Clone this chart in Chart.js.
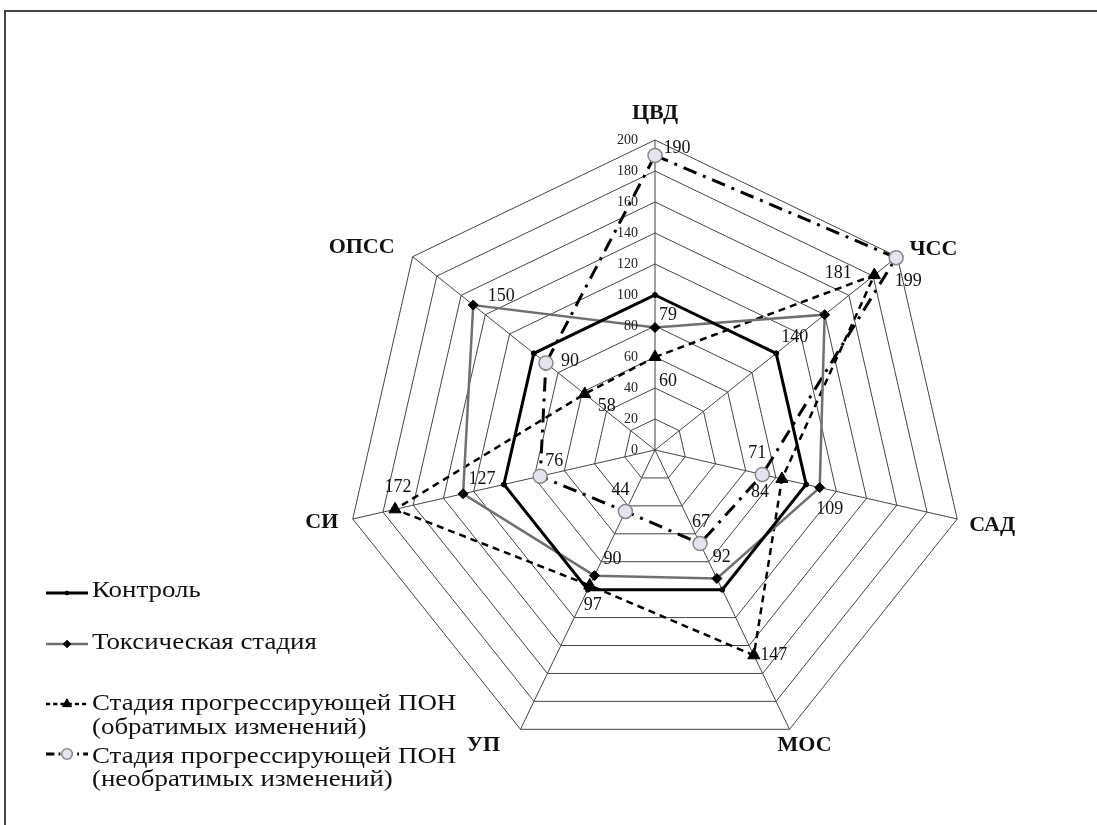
<!DOCTYPE html>
<html>
<head>
<meta charset="utf-8">
<script src="https://cdn.jsdelivr.net/npm/chart.js@4.4.1/dist/chart.umd.min.js"></script>
<style>
  html, body { margin: 0; padding: 0; background: #fff; }
  #wrap { position: relative; width: 1097px; height: 825px; overflow: hidden; }
  #frame { position: absolute; left: 4px; top: 10px; width: 1200px; height: 900px;
           border: 2px solid #444; box-sizing: border-box; }
  canvas { position: absolute; left: 0; top: 0; }
</style>
</head>
<body>
<div id="wrap">
  <div id="frame"></div>
  <canvas id="radar" width="1097" height="825"></canvas>
</div>
<script>
// данные диаграммы
const axes         = ['ЦВД', 'ЧСС', 'САД', 'МОС', 'УП', 'СИ', 'ОПСС'];
const control      = [100, 100, 100, 100, 100, 100, 100];
const toxic        = [79, 140, 109, 92, 90, 127, 150];
const reversible   = [60, 181, 84, 147, 97, 172, 58];
const irreversible = [190, 199, 71, 67, 44, 76, 90];
const tickValues   = [0, 20, 40, 60, 80, 100, 120, 140, 160, 180, 200];
const seriesNames  = [
  ['Контроль'],
  ['Токсическая стадия'],
  ['Стадия прогрессирующей ПОН', '(обратимых изменений)'],
  ['Стадия прогрессирующей ПОН', '(необратимых изменений)'],
];

const SERIF = '"Liberation Serif", "DejaVu Serif", serif';

// смещения подписей значений относительно точек (только оформление)
const labelOffsets = [
  null,
  [[13, -12], [-30, 23], [10, 22], [5, -21], [18, -16], [19, -15], [28, -9]],
  [[13, 24], [-36, -2], [-22, 13], [20, 0], [3, 20], [3, -22], [22, 12]],
  [[22, -7], [12, 24], [-5, -21], [1, -21], [-5, -21], [14, -15], [24, -2]],
];
const axisLabelOffsets = [[0, -27], [36, -7], [35, 6], [15, 16], [-37, 16], [-31, 3], [-51, -9]];

const styles = [
  { borderColor: '#000', borderWidth: 3, borderDash: [], pointStyle: 'circle', pointRadius: 2.5,
    pointBackgroundColor: '#000', pointBorderColor: '#000', pointBorderWidth: 1 },
  { borderColor: '#707070', borderWidth: 2.5, borderDash: [], pointStyle: 'rectRot', pointRadius: 5,
    pointBackgroundColor: '#000', pointBorderColor: '#000', pointBorderWidth: 1 },
  { borderColor: '#000', borderWidth: 2.5, borderDash: [7, 5], pointStyle: 'triangle', pointRadius: 7,
    pointBackgroundColor: '#000', pointBorderColor: '#000', pointBorderWidth: 1 },
  { borderColor: '#000', borderWidth: 3, borderDash: [14, 7, 3, 7], pointStyle: 'circle', pointRadius: 7,
    pointBackgroundColor: '#e4e4f0', pointBorderColor: '#888', pointBorderWidth: 1.5 },
];

const seriesData = [control, toxic, reversible, irreversible];

const decorPlugin = {
  id: 'decor',
  afterDatasetsDraw(chart) {
    const ctx = chart.ctx;
    const r = chart.scales.r;
    ctx.save();

    // значения шкалы на оси ЦВД
    ctx.fillStyle = '#222';
    ctx.font = '14px ' + SERIF;
    ctx.textAlign = 'right';
    ctx.textBaseline = 'middle';
    tickValues.forEach(v => {
      const p = r.getPointPositionForValue(0, v);
      ctx.fillText(String(v), p.x - 17, p.y);
    });

    // названия осей
    ctx.fillStyle = '#111';
    ctx.font = 'bold 22px ' + SERIF;
    ctx.textAlign = 'center';
    axes.forEach((name, i) => {
      const p = r.getPointPositionForValue(i, 200);
      const o = axisLabelOffsets[i];
      ctx.fillText(name, p.x + o[0], p.y + o[1]);
    });

    // подписи значений
    ctx.font = '18px ' + SERIF;
    ctx.fillStyle = '#111';
    seriesData.forEach((data, s) => {
      if (!labelOffsets[s]) return;
      data.forEach((v, i) => {
        const p = r.getPointPositionForValue(i, v);
        const o = labelOffsets[s][i];
        ctx.fillText(String(v), p.x + o[0], p.y + o[1]);
      });
    });

    // легенда
    const legendBase = [[597], [649], [710, 734], [763, 786]];
    const sampleY = [593, 644, 704, 754];
    seriesNames.forEach((lines, s) => {
      const st = styles[s];
      const y = sampleY[s];
      ctx.strokeStyle = st.borderColor;
      ctx.lineWidth = st.borderWidth;
      ctx.setLineDash(st.borderDash.length ? st.borderDash.map(d => d * 0.6) : []);
      ctx.beginPath();
      ctx.moveTo(46, y);
      ctx.lineTo(88, y);
      ctx.stroke();
      ctx.setLineDash([]);
      ctx.fillStyle = st.pointBackgroundColor;
      ctx.strokeStyle = st.pointBorderColor;
      ctx.lineWidth = st.pointBorderWidth;
      Chart.helpers.drawPoint(ctx, {
        pointStyle: st.pointStyle,
        radius: st.pointRadius * 0.75,
        borderWidth: st.pointBorderWidth,
        rotation: 0,
      }, 67, y);

      ctx.fillStyle = '#111';
      ctx.font = '23px ' + SERIF;
      ctx.textAlign = 'left';
      ctx.textBaseline = 'alphabetic';
      lines.forEach((t, k) => {
        ctx.save();
        ctx.translate(92, legendBase[s][k]);
        ctx.scale(1.17, 1);
        ctx.fillText(t, 0, 0);
        ctx.restore();
      });
    });

    ctx.restore();
  },
};

new Chart(document.getElementById('radar'), {
  type: 'radar',
  data: {
    labels: axes,
    datasets: seriesData.map((d, s) => ({
      label: seriesNames[s].join(' '),
      data: d,
      fill: false,
      tension: 0,
      ...styles[s],
    })),
  },
  options: {
    responsive: false,
    animation: false,
    layout: { padding: { left: 345, right: 132, top: 140, bottom: 65 } },
    plugins: {
      legend: { display: false },
      tooltip: { enabled: false },
    },
    scales: {
      r: {
        min: 0,
        max: 200,
        ticks: { stepSize: 20, display: false },
        pointLabels: { display: false },
        grid: { color: '#444', lineWidth: 1 },
        angleLines: { color: '#444', lineWidth: 1 },
      },
    },
  },
  plugins: [decorPlugin],
});
</script>
</body>
</html>
